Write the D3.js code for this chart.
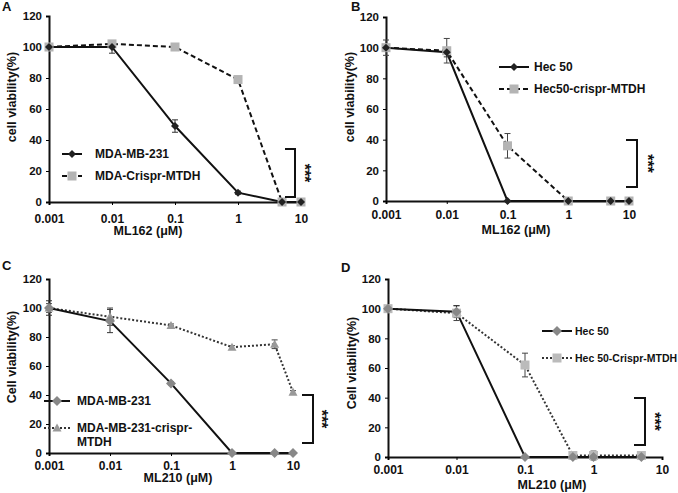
<!DOCTYPE html>
<html><head><meta charset="utf-8">
<script src="https://cdn.jsdelivr.net/npm/d3@7"></script>
<style>body{margin:0;background:#fff}svg{display:block}text{font-family:"Liberation Sans",Arial,sans-serif;font-weight:bold;fill:#111}</style>
</head><body>
<script>
// ---- data ----
const xTicks = [0.001, 0.01, 0.1, 1, 10];
const xTickLabels = ["0.001", "0.01", "0.1", "1", "10"];
const yTicks = [0, 20, 40, 60, 80, 100, 120];

const concA = [0.001, 0.01, 0.1, 1, 5, 10];
const A_mda = [100, 100, 49, 6, 0, 0];
const A_mdaErr = [0, 4, 4, 1, 0, 0];
const A_crispr = [100, 102, 100, 79, 0, 0];
const A_crisprErr = [2, 2, 1, 1, 0, 0];

const concB = [0.001, 0.01, 0.1, 1, 5, 10];
const B_hec = [100, 97, 0, 0, 0, 0];
const B_hecErr = [0, 3, 0, 0, 0, 0];
const B_crispr = [100, 98, 36, 0, 0, 0];
const B_crisprErr = [5, 8, 8, 0, 0, 0];

const concC = [0.001, 0.01, 0.1, 1, 5, 10];
const C_mda = [100, 91, 48, 0, 0, 0];
const C_mdaErr = [5, 8, 1, 0, 0, 0];
const C_crispr = [100, 94, 88, 73, 75, 42];
const C_crisprErr = [3, 6, 1, 1, 3, 1];

const concD = [0.001, 0.01, 0.1, 0.5, 1, 5];
const D_hec = [100, 98, 0, 0, 0, 0];
const D_hecErr = [0, 4, 0, 0, 0, 0];
const D_crispr = [100, 97, 62, 1, 1, 1];
const D_crisprErr = [1, 5, 8, 2, 3, 0];

const legendA = ["MDA-MB-231", "MDA-Crispr-MTDH"];
const legendB = ["Hec 50", "Hec50-crispr-MTDH"];
const legendC = ["MDA-MB-231", ["MDA-MB-231-crispr-", "MTDH"]];
const legendD = ["Hec 50", "Hec 50-Crispr-MTDH"];

// ---- drawing ----
const svg = d3.select("body").append("svg").attr("width", 678).attr("height", 493);

const panels = [
  {letter:"A", lp:[2,11], xr:[49,301], yr:[202,16], tpad:9, ylab:"cell viability(%)", ylx:12, yly:97, xlab:"ML162 (\u03bcM)", xlx:148, xly:235,
   conc:concA, s1:A_mda, e1:A_mdaErr, s2:A_crispr, e2:A_crisprErr, leg:legendA, lfs:12,
   st1:{dash:null, color:"#111", marker:"diamond", mcolor:"#222", msize:4},
   st2:{dash:"5,3", color:"#111", marker:"square", mcolor:"#b4b4b4", msize:9},
   legPos:{x1:62, x2:82, tx:95, y1:154, y2:176}, br:{x:295, xl:285, y1:149, y2:197, sx:299}},
  {letter:"B", lp:[351,11], xr:[386,629], yr:[201,17], tpad:6, ylab:"cell viability(%)", ylx:350, yly:97, xlab:"ML162 (\u03bcM)", xlx:516, xly:234,
   conc:concB, s1:B_hec, e1:B_hecErr, s2:B_crispr, e2:B_crisprErr, leg:legendB, lfs:12,
   st1:{dash:null, color:"#111", marker:"diamond", mcolor:"#222", msize:4},
   st2:{dash:"5,3", color:"#111", marker:"square", mcolor:"#b4b4b4", msize:9},
   legPos:{x1:499, x2:529, tx:534, y1:67, y2:89}, br:{x:637, xl:626, y1:140, y2:187, sx:642}},
  {letter:"C", lp:[2,270], xr:[49,293], yr:[453,279], tpad:5, ylab:"Cell viability(%)", ylx:12, yly:357, xlab:"ML210 (\u03bcM)", xlx:178, xly:482,
   conc:concC, s1:C_mda, e1:C_mdaErr, s2:C_crispr, e2:C_crisprErr, leg:legendC, lfs:12,
   st1:{dash:null, color:"#111", marker:"diamond", mcolor:"#888", msize:5},
   st2:{dash:"2,2", color:"#333", marker:"triangle", mcolor:"#999", msize:9},
   legPos:{x1:44, x2:70, tx:77, y1:401, y2:428}, br:{x:313, xl:302, y1:395, y2:443, sx:316}},
  {letter:"D", lp:[341,272], xr:[388,662], yr:[457,279], tpad:5, ylab:"Cell viability(%)", ylx:352, yly:363, xlab:"ML210 (\u03bcM)", xlx:552, xly:489,
   conc:concD, s1:D_hec, e1:D_hecErr, s2:D_crispr, e2:D_crisprErr, leg:legendD, lfs:10.5,
   st1:{dash:null, color:"#111", marker:"diamond", mcolor:"#888", msize:5},
   st2:{dash:"2,2", color:"#333", marker:"square", mcolor:"#bbb", msize:9},
   legPos:{x1:542, x2:572, tx:575, y1:331, y2:358}, br:{x:645, xl:634, y1:398, y2:445, sx:649}}
];

function marker(g, type, cx, cy, size, color) {
  if (type === "square") {
    g.append("rect").attr("x", cx - size/2).attr("y", cy - size/2).attr("width", size).attr("height", size).attr("fill", color);
  } else if (type === "diamond") {
    const s = size;
    g.append("path").attr("d", `M${cx},${cy-s}L${cx+s},${cy}L${cx},${cy+s}L${cx-s},${cy}Z`).attr("fill", color);
  } else if (type === "triangle") {
    const s = size/2;
    g.append("path").attr("d", `M${cx},${cy-s}L${cx+s},${cy+s*0.8}L${cx-s},${cy+s*0.8}Z`).attr("fill", color);
  }
}

panels.forEach(p => {
  const g = svg.append("g");
  const x = d3.scaleLog().domain([0.001, 10]).range(p.xr);
  const y = d3.scaleLinear().domain([0, 120]).range(p.yr);

  // y axis
  const ya = g.append("g").attr("transform", `translate(${p.xr[0]},0)`)
    .call(d3.axisLeft(y).tickValues(yTicks).tickSize(3).tickPadding(4));
  ya.select(".domain").attr("stroke-width", 2).attr("stroke", "#111");
  ya.selectAll(".tick line").attr("stroke-width", 1);
  ya.selectAll("text").attr("font-size", 11.5).attr("font-weight", "bold").attr("font-family", "Liberation Sans, Arial").attr("fill", "#111");

  // x axis
  const xa = g.append("g").attr("transform", `translate(0,${p.yr[0]})`)
    .call(d3.axisBottom(x).tickValues(xTicks).tickFormat((d, i) => xTickLabels[i]).tickSize(3).tickPadding(p.tpad));
  xa.select(".domain").attr("stroke-width", 2).attr("stroke", "#111");
  xa.selectAll("text").attr("font-size", 12).attr("font-weight", "bold").attr("font-family", "Liberation Sans, Arial").attr("fill", "#111");

  // series
  const line = d3.line().x(d => x(d[0])).y(d => y(d[1]));
  const d1 = p.conc.map((c, i) => [c, p.s1[i], p.e1[i]]);
  const d2 = p.conc.map((c, i) => [c, p.s2[i], p.e2[i]]);

  function drawErr(data, color) {
    data.forEach(d => {
      if (!d[2]) return;
      const cx = x(d[0]), t = y(d[1] + d[2]), b = y(d[1] - d[2]);
      g.append("line").attr("x1", cx).attr("x2", cx).attr("y1", t).attr("y2", b).attr("stroke", color).attr("stroke-width", 1);
      [t, b].forEach(yy => g.append("line").attr("x1", cx - 3).attr("x2", cx + 3).attr("y1", yy).attr("y2", yy).attr("stroke", color).attr("stroke-width", 1));
    });
  }

  g.append("path").datum(d2).attr("d", line).attr("fill", "none").attr("stroke", p.st2.color).attr("stroke-width", 2)
    .attr("stroke-dasharray", p.st2.dash);
  g.append("path").datum(d1).attr("d", line).attr("fill", "none").attr("stroke", p.st1.color).attr("stroke-width", 2)
    .attr("stroke-dasharray", p.st1.dash);
  drawErr(d2, "#444");
  drawErr(d1, "#333");
  d2.forEach(d => marker(g, p.st2.marker, x(d[0]), y(d[1]), p.st2.msize, p.st2.mcolor));
  d1.forEach(d => marker(g, p.st1.marker, x(d[0]), y(d[1]), p.st1.msize, p.st1.mcolor));

  // legend
  const L = p.legPos;
  g.append("line").attr("x1", L.x1).attr("x2", L.x2).attr("y1", L.y1).attr("y2", L.y1).attr("stroke", p.st1.color).attr("stroke-width", 2);
  marker(g, p.st1.marker, (L.x1 + L.x2)/2, L.y1, p.st1.msize, p.st1.mcolor);
  g.append("text").attr("x", L.tx).attr("y", L.y1 + 4).attr("font-size", p.lfs).text(p.leg[0]);
  g.append("line").attr("x1", L.x1).attr("x2", L.x2).attr("y1", L.y2).attr("y2", L.y2).attr("stroke", p.st2.color).attr("stroke-width", 2)
    .attr("stroke-dasharray", p.st2.dash);
  marker(g, p.st2.marker, (L.x1 + L.x2)/2, L.y2, p.st2.msize, p.st2.mcolor);
  if (Array.isArray(p.leg[1])) {
    p.leg[1].forEach((t, i) => g.append("text").attr("x", L.tx).attr("y", L.y2 + 4 + i*14).attr("font-size", p.lfs).text(t));
  } else {
    g.append("text").attr("x", L.tx).attr("y", L.y2 + 4).attr("font-size", p.lfs).text(p.leg[1]);
  }

  // significance bracket
  const B = p.br;
  g.append("path").attr("d", `M${B.xl},${B.y1}H${B.x}V${B.y2}H${B.xl}`).attr("fill", "none").attr("stroke", "#111").attr("stroke-width", 2);
  g.append("text").attr("transform", `translate(${B.sx},${(B.y1 + B.y2)/2}) rotate(90)`).attr("text-anchor", "middle")
    .attr("font-size", 16).text("***");

  // axis titles
  g.append("text").attr("transform", `translate(${p.ylx + 4},${p.yly}) rotate(-90)`).attr("text-anchor", "middle").attr("font-size", 12.5).text(p.ylab);
  g.append("text").attr("x", p.xlx).attr("y", p.xly).attr("text-anchor", "middle").attr("font-size", 12.5).text(p.xlab);

  // panel letter
  g.append("text").attr("x", p.lp[0]).attr("y", p.lp[1]).attr("font-size", 13).text(p.letter);
});
</script>
</body></html>
